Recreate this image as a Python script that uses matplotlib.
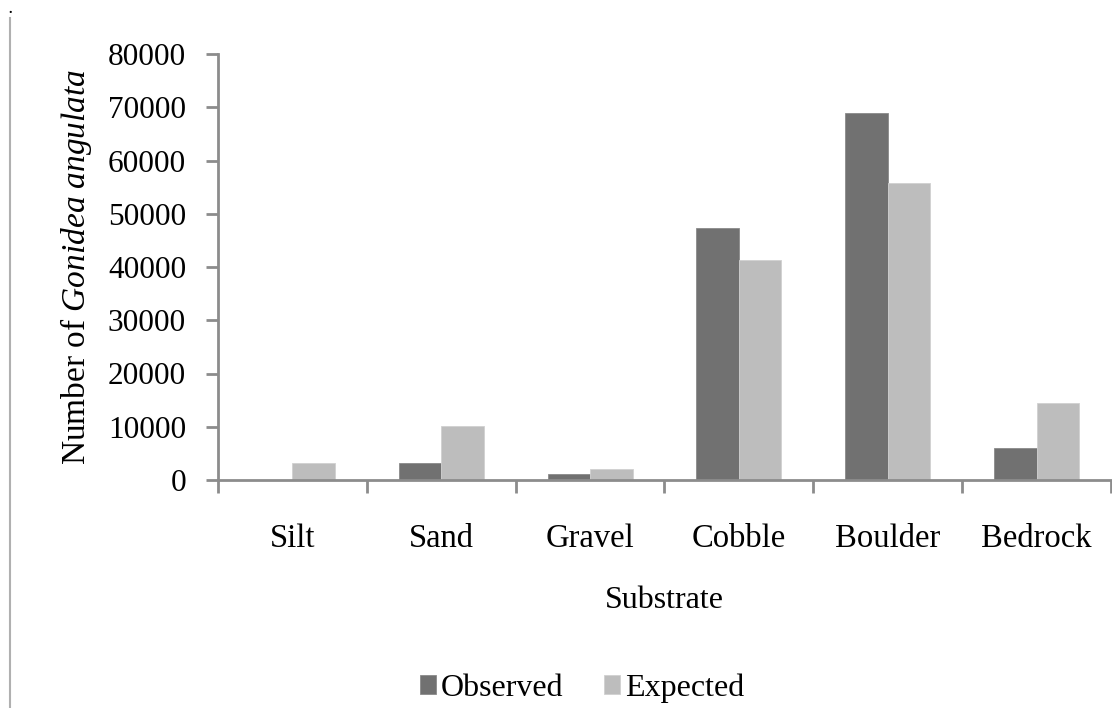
import matplotlib
matplotlib.use('Agg')
from matplotlib import pyplot as plt
from matplotlib.lines import Line2D
import numpy as np

substrates = ['Silt', 'Sand', 'Gravel', 'Cobble', 'Boulder', 'Bedrock']
observed = [0, 3200, 1200, 47400, 68900, 6100]
expected = [3100, 10200, 2100, 41300, 55800, 14400]

plt.rcParams['font.family'] = 'Liberation Serif'
plt.rcParams['mathtext.fontset'] = 'custom'
plt.rcParams['mathtext.rm'] = 'Liberation Serif'
plt.rcParams['mathtext.it'] = 'Liberation Serif:italic'

axis_col = '#8c8c8c'
obs_col = '#717171'
exp_col = '#bdbdbd'

fig = plt.figure(figsize=(11.12, 7.08), dpi=100)
ax = fig.add_axes([218/1112, 1 - 480/708, (1111 - 218)/1112, (480 - 54)/708])

x = np.arange(len(substrates))
w = 0.285
ax.bar(x - w/2, observed, w, color=obs_col, edgecolor='#8a8a8a', linewidth=0.6, label='Observed')
ax.bar(x + w/2, expected, w, color=exp_col, edgecolor='#d0d0d0', linewidth=0.6, label='Expected')

ax.set_xlim(-0.5, len(substrates) - 0.5)
ax.set_ylim(0, 80000)
ax.set_yticks(np.arange(0, 80001, 10000))
ax.set_xticks(x)
ax.set_xticklabels(substrates, fontsize=23.5)
ax.set_xticks(np.arange(-0.5, len(substrates)), minor=True)
ax.tick_params(axis='x', which='major', length=0, pad=31)
ax.tick_params(axis='x', which='minor', length=9, width=2, color=axis_col, direction='out')
ax.tick_params(axis='y', labelsize=22.5, length=9, width=2, color=axis_col, pad=14)

for s in ['top', 'right']:
    ax.spines[s].set_visible(False)
for s in ['left', 'bottom']:
    ax.spines[s].set_color(axis_col)
    ax.spines[s].set_linewidth(2)

ax.set_xlabel('Substrate', fontsize=23, labelpad=23)
ax.set_ylabel(r'Number of $\mathit{Gonidea\ angulata}$', fontsize=24)
ax.yaxis.set_label_coords(-0.139, 0.5)

ax.legend(loc='center', bbox_to_anchor=(582/1112, 1 - 688/708), bbox_transform=fig.transFigure,
          ncol=2, frameon=False, fontsize=23, handlelength=0.5, handleheight=0.5,
          handletextpad=0.15, columnspacing=1.3)

# page border artifacts
fig.add_artist(Line2D([10/1112, 10/1112], [0, 1 - 18/708], color='#b0b0b0', linewidth=1.5))
fig.text(8/1112, 1 - 13/708, '.', fontsize=10, fontweight='bold', va='baseline')

fig.savefig('out.png', dpi=100)
